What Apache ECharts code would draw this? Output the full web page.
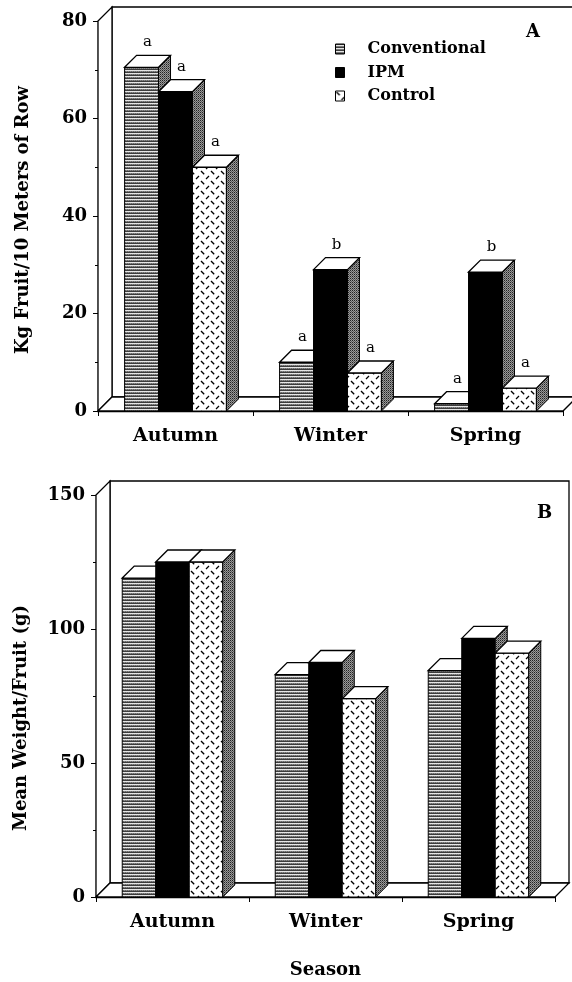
<!DOCTYPE html>
<html>
<head>
<meta charset="utf-8">
<script src="https://cdn.jsdelivr.net/npm/echarts@6/dist/echarts.min.js"></script>
<style>
html,body{margin:0;padding:0;background:#fff;}
#chart{width:572px;height:982px;}
</style>
</head>
<body>
<div id="chart"></div>
<script>
// ---------- data ----------
const seasons = ['Autumn', 'Winter', 'Spring'];
const seriesNames = ['Conventional', 'IPM', 'Control'];

// Panel A: Kg fruit / 10 m of row
const yieldConventional = [70.5, 10, 1.5];
const yieldIPM = [65.5, 29, 28.5];
const yieldControl = [50, 7.8, 4.7];
const lettersConventional = ['a', 'a', 'a'];
const lettersIPM = ['a', 'b', 'b'];
const lettersControl = ['a', 'a', 'a'];
const ticksA = [0, 20, 40, 60, 80];

// Panel B: mean weight / fruit (g)
const weightConventional = [119, 83, 84.5];
const weightIPM = [125, 87.5, 96.5];
const weightControl = [125, 74, 91];
const ticksB = [0, 50, 100, 150];

// ---------- patterns ----------
function mkCanvas(w, h, draw) {
  const c = document.createElement('canvas');
  c.width = w; c.height = h;
  const g = c.getContext('2d');
  draw(g);
  return c;
}
const convPattern = {
  image: mkCanvas(4, 3, g => {
    g.fillStyle = '#e6e6e6'; g.fillRect(0, 0, 4, 3);
    g.fillStyle = '#3c3c3c'; g.fillRect(0, 0, 4, 1);
    g.fillStyle = '#8a8a8a'; g.fillRect(0, 2, 4, 1);
    g.fillStyle = '#666'; g.fillRect(1, 2, 1, 1); g.fillRect(3, 2, 1, 1);
  }),
  repeat: 'repeat'
};
const ctrlPattern = {
  image: mkCanvas(10, 10, g => {
    g.fillStyle = '#fff'; g.fillRect(0, 0, 10, 10);
    g.strokeStyle = '#000'; g.lineWidth = 1.3;
    g.beginPath(); g.moveTo(1, 1); g.lineTo(4.2, 4.2); g.stroke();
    g.beginPath(); g.moveTo(6, 9); g.lineTo(9, 6); g.stroke();
  }),
  repeat: 'repeat'
};
const sidePattern = {
  image: mkCanvas(2, 2, g => {
    g.fillStyle = '#9a9a9a'; g.fillRect(0, 0, 2, 2);
    g.fillStyle = '#222'; g.fillRect(0, 0, 1, 1);
    g.fillStyle = '#5a5a5a'; g.fillRect(1, 1, 1, 1);
  }),
  repeat: 'repeat'
};
const fills = [convPattern, '#000', ctrlPattern];

const SERIF = '"DejaVu Serif", "Liberation Serif", serif';
const DEPTH = 12;      // bar depth (px)
const WALL = 14;       // wall depth (px)

function barRender(idx, letters) {
  return function (params, api) {
    const cat = api.value(0), val = api.value(1);
    const base = api.coord([cat, 0]);
    const top = api.coord([cat, val]);
    const band = api.size([1, 0])[0];
    const bw = band * 0.219;
    const x0 = base[0] - 1.5 * bw + idx * bw;
    const x1 = x0 + bw;
    const yb = base[1], yt = top[1];
    const d = DEPTH;
    const children = [
      { type: 'rect', shape: { x: x0, y: yt, width: bw, height: yb - yt },
        style: { fill: fills[idx], stroke: '#000', lineWidth: 1 } },
      { type: 'polygon', shape: { points: [[x1, yb], [x1 + d, yb - d], [x1 + d, yt - d], [x1, yt]] },
        style: { fill: sidePattern, stroke: '#000', lineWidth: 1 } },
      { type: 'polygon', shape: { points: [[x0, yt], [x0 + d, yt - d], [x1 + d, yt - d], [x1, yt]] },
        style: { fill: '#fff', stroke: '#000', lineWidth: 1.3 } }
    ];
    if (letters) {
      children.push({ type: 'text',
        style: { text: letters[params.dataIndex], x: (x0 + x1) / 2 + d / 2, y: yt - d - 13,
          align: 'center', verticalAlign: 'middle', fill: '#000',
          font: 'normal 15px ' + SERIF } });
    }
    return { type: 'group', children };
  };
}

function wallRender(params, api) {
  const cs = params.coordSys;
  const x = cs.x, y = cs.y, w = cs.width, h = cs.height, d = WALL;
  const st = { fill: '#fff', stroke: '#000', lineWidth: 1.3 };
  return { type: 'group', children: [
    { type: 'rect', shape: { x: x + d, y: y - d, width: w, height: h }, style: st },
    { type: 'polygon', shape: { points: [[x, y], [x + d, y - d], [x + d, y + h - d], [x, y + h]] }, style: st },
    { type: 'polygon', shape: { points: [[x, y + h], [x + d, y + h - d], [x + w + d, y + h - d], [x + w, y + h]] }, style: st }
  ] };
}

function mkSeries(gi, arrs, lettersArr) {
  const out = [{
    type: 'custom', name: 'walls' + gi, xAxisIndex: gi, yAxisIndex: gi, z: 1,
    silent: true, data: [[0, 0]], renderItem: wallRender, clip: false
  }];
  arrs.forEach((arr, i) => {
    out.push({
      type: 'custom', name: seriesNames[i], xAxisIndex: gi, yAxisIndex: gi, z: 3 + i,
      itemStyle: { color: fills[i], borderColor: '#000' },
      data: arr.map((v, k) => [k, v]),
      encode: { x: 0, y: 1 },
      renderItem: barRender(i, lettersArr ? lettersArr[i] : null), clip: false
    });
  });
  return out;
}

function yAxis(gi, ticks, name, pad) {
  return {
    type: 'value', gridIndex: gi, min: ticks[0], max: ticks[ticks.length - 1],
    interval: ticks[1] - ticks[0],
    name: name, nameLocation: 'middle', nameGap: 66, nameRotate: 90,
    nameTextStyle: { fontFamily: SERIF, fontWeight: 'bold', fontSize: 18, color: '#000', padding: [0, pad, 0, 0] },
    axisLine: { show: true, lineStyle: { color: '#000', width: 1.3 } },
    axisTick: { show: true, length: 5, lineStyle: { color: '#000' } },
    minorTick: { show: true, splitNumber: 2, length: 3, lineStyle: { color: '#000' } },
    splitLine: { show: false },
    axisLabel: { fontFamily: SERIF, fontWeight: 'bold', fontSize: 18, color: '#000', margin: 11 }
  };
}
function xAxis(gi, name) {
  const a = {
    type: 'category', gridIndex: gi, data: seasons,
    axisLine: { show: true, lineStyle: { color: '#000', width: 1.3 } },
    axisTick: { show: true, length: 5, lineStyle: { color: '#000' } },
    axisLabel: { fontFamily: SERIF, fontWeight: 'bold', fontSize: 19, color: '#000', margin: 16 },
    splitLine: { show: false }
  };
  if (name) {
    a.name = name; a.nameLocation = 'middle'; a.nameGap = 64;
    a.nameTextStyle = { fontFamily: SERIF, fontWeight: 'bold', fontSize: 18, color: '#000' };
  }
  return a;
}

const chart = echarts.init(document.getElementById('chart'), null, { renderer: 'canvas' });
chart.setOption({
  backgroundColor: '#fff',
  animation: false,
  title: [
    { text: 'A', left: 521, top: 18, textStyle: { fontFamily: SERIF, fontWeight: 'bold', fontSize: 18, color: '#000' } },
    { text: 'B', left: 532, top: 499, textStyle: { fontFamily: SERIF, fontWeight: 'bold', fontSize: 18, color: '#000' } }
  ],
  legend: {
    orient: 'vertical', left: 330, top: 34, itemWidth: 9, itemHeight: 10, itemGap: 3.5,
    data: seriesNames.map((n, i) => ({ name: n, icon: 'rect',
      itemStyle: { color: fills[i], borderColor: '#000', borderWidth: 1 } })),
    textStyle: { fontFamily: SERIF, fontWeight: 'bold', fontSize: 16, color: '#000', lineHeight: 20, padding: [0, 0, 0, 18] },
    selectedMode: false
  },
  grid: [
    { left: 98, right: 9, top: 21, bottom: 571 },
    { left: 96, right: 17, top: 495, bottom: 85 }
  ],
  xAxis: [xAxis(0), xAxis(1, 'Season')],
  yAxis: [yAxis(0, ticksA, 'Kg Fruit/10 Meters of Row', 8), yAxis(1, ticksB, 'Mean Weight/Fruit (g)', 44)],
  series: [
    ...mkSeries(0, [yieldConventional, yieldIPM, yieldControl], [lettersConventional, lettersIPM, lettersControl]),
    ...mkSeries(1, [weightConventional, weightIPM, weightControl], null)
  ]
});
</script>
</body>
</html>
